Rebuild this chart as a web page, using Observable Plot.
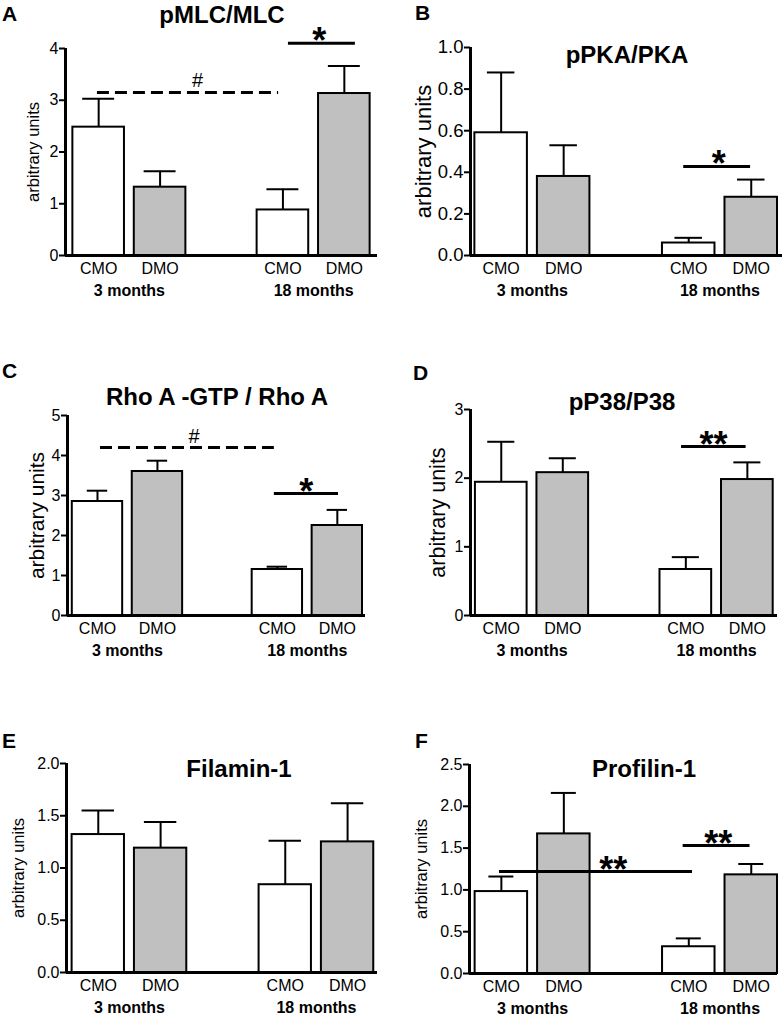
<!DOCTYPE html>
<html>
<head>
<meta charset="utf-8">
<script src="https://cdn.jsdelivr.net/npm/d3@7"></script>
<script src="https://cdn.jsdelivr.net/npm/@observablehq/plot@0.6"></script>
<style>
  html, body { margin: 0; padding: 0; background: white; }
  #root { position: relative; width: 783px; height: 1020px; overflow: hidden; font-family: Arial, "Liberation Sans", sans-serif; color: black; }
  .pane { position: absolute; }
  .lbl { position: absolute; line-height: 1; white-space: nowrap; }
</style>
</head>
<body>
<div id="root"></div>
<script>
// ---------- data ----------
const diets = ["CMO", "DMO", "CMO", "DMO"];
const slots = [1, 2, 4, 5];
const ageLabels = ["3 months", "18 months"];
const ageSlots = [1.5, 4.5];

const titles = ["pMLC/MLC", "pPKA/PKA", "Rho A -GTP / Rho A", "pP38/P38", "Filamin-1", "Profilin-1"];
const letters = ["A", "B", "C", "D", "E", "F"];
const yLabel = "arbitrary units";

// means and upper error ends (mean + SEM), order: CMO 3m, DMO 3m, CMO 18m, DMO 18m
const pMLC_mean = [2.48, 1.32, 0.88, 3.13];
const pMLC_upper = [3.03, 1.63, 1.28, 3.66];
const pPKA_mean = [0.59, 0.38, 0.06, 0.28];
const pPKA_upper = [0.88, 0.53, 0.085, 0.365];
const rhoA_mean = [2.85, 3.60, 1.15, 2.25];
const rhoA_upper = [3.12, 3.87, 1.22, 2.64];
const p38_mean = [1.94, 2.08, 0.67, 1.98];
const p38_upper = [2.53, 2.29, 0.85, 2.23];
const filamin_mean = [1.32, 1.19, 0.84, 1.25];
const filamin_upper = [1.55, 1.44, 1.26, 1.62];
const profilin_mean = [0.98, 1.67, 0.32, 1.18];
const profilin_upper = [1.16, 2.16, 0.42, 1.31];

// y ticks
const pMLC_ticks = [0, 1, 2, 3, 4];
const pPKA_ticks = [0, 0.2, 0.4, 0.6, 0.8, 1.0];
const rhoA_ticks = [0, 1, 2, 3, 4, 5];
const p38_ticks = [0, 1, 2, 3];
const filamin_ticks = [0, 0.5, 1.0, 1.5, 2.0];
const profilin_ticks = [0, 0.5, 1.0, 1.5, 2.0, 2.5];

// significance brackets (x in slot units, y in data units)
const pMLC_sig = [
  {x1: 0.98, x2: 3.93, y: 3.15, label: "#", lx: 2.61, dashed: true},
  {x1: 4.09, x2: 5.18, y: 4.10, label: "*", lx: 4.59, dashed: false}
];
const pPKA_sig = [
  {x1: 3.92, x2: 4.99, y: 0.428, label: "*", lx: 4.48, dashed: false}
];
const rhoA_sig = [
  {x1: 1.05, x2: 3.95, y: 4.20, label: "#", lx: 2.61, dashed: true},
  {x1: 3.95, x2: 5.02, y: 3.05, label: "*", lx: 4.48, dashed: false}
];
const p38_sig = [
  {x1: 3.93, x2: 4.98, y: 2.46, label: "**", lx: 4.45, dashed: false}
];
const filamin_sig = [];
const profilin_sig = [
  {x1: 0.97, x2: 4.06, y: 1.22, label: "**", lx: 2.79, dashed: false},
  {x1: 3.91, x2: 4.98, y: 1.53, label: "**", lx: 4.47, dashed: false}
];

// ---------- layout ----------
const FONT = "Arial, 'Liberation Sans', sans-serif";
const GRAY = "#c0c0c0";
const HALF_BAR = 0.42;

const panels = [
  {mean: pMLC_mean, upper: pMLC_upper, ticks: pMLC_ticks, sig: pMLC_sig, fmt: "d",
   left: 0, top: 0, width: 390, height: 310, mL: 65, mR: 13, mT: 48, mB: 55, xdom: [0.46, 5.54],
   tickFs: 16, labelFs: 16.5, labelDx: -32, cap: 0.26,
   title: {x: 222, b: 23}, letter: {x: 2, b: 21}},
  {mean: pPKA_mean, upper: pPKA_upper, ticks: pPKA_ticks, sig: pPKA_sig, fmt: ".1f",
   left: 390, top: 0, width: 393, height: 310, mL: 80, mR: 1, mT: 47, mB: 55, xdom: [0.51, 5.5],
   tickFs: 18.5, labelFs: 22, labelDx: -47, cap: 0.22,
   title: {x: 627, b: 63}, letter: {x: 415, b: 20}},
  {mean: rhoA_mean, upper: rhoA_upper, ticks: rhoA_ticks, sig: rhoA_sig, fmt: "d",
   left: 0, top: 320, width: 390, height: 350, mL: 67, mR: 25, mT: 95, mB: 55, xdom: [0.5, 5.47],
   tickFs: 16, labelFs: 21, labelDx: -30, cap: 0.17,
   title: {x: 217, b: 405}, letter: {x: 2, b: 378}},
  {mean: p38_mean, upper: p38_upper, ticks: p38_ticks, sig: p38_sig, fmt: "d",
   left: 390, top: 320, width: 393, height: 350, mL: 80, mR: 6, mT: 89, mB: 55, xdom: [0.5, 5.49],
   tickFs: 16, labelFs: 21.5, labelDx: -32, cap: 0.22,
   title: {x: 622, b: 410}, letter: {x: 413, b: 380}},
  {mean: filamin_mean, upper: filamin_upper, ticks: filamin_ticks, sig: filamin_sig, fmt: ".1f",
   left: 0, top: 690, width: 390, height: 330, mL: 66, mR: 13, mT: 73, mB: 48, xdom: [0.49, 5.48],
   tickFs: 16, labelFs: 16.5, labelDx: -48, cap: 0.26,
   title: {x: 239, b: 777}, letter: {x: 2, b: 748}},
  {mean: profilin_mean, upper: profilin_upper, ticks: profilin_ticks, sig: profilin_sig, fmt: ".1f",
   left: 390, top: 690, width: 393, height: 330, mL: 79, mR: 6, mT: 74, mB: 47, xdom: [0.49, 5.42],
   tickFs: 16, labelFs: 16.5, labelDx: -48, cap: 0.2,
   title: {x: 644, b: 777}, letter: {x: 415, b: 748}}
];

const root = document.getElementById("root");
const cats = slots.map((s, i) => ({pos: s, label: diets[i]}));
const ages = ageSlots.map((s, i) => ({pos: s, label: ageLabels[i]}));

function makePanel(cfg) {
  const data = slots.map((s, i) => ({pos: s, diet: diets[i], mean: cfg.mean[i], upper: cfg.upper[i]}));
  const solid = cfg.sig.filter(d => !d.dashed);
  const dashed = cfg.sig.filter(d => d.dashed);
  const stars = cfg.sig.filter(d => d.label.includes("*"));
  const hashes = cfg.sig.filter(d => d.label === "#");
  const fmt = d3.format(cfg.fmt);
  return Plot.plot({
    width: cfg.width, height: cfg.height,
    marginLeft: cfg.mL, marginRight: cfg.mR, marginTop: cfg.mT, marginBottom: cfg.mB,
    x: {type: "linear", domain: cfg.xdom, axis: null},
    y: {domain: [0, cfg.ticks[cfg.ticks.length - 1]], axis: null},
    style: {fontFamily: FONT, color: "black", background: "white", overflow: "visible"},
    marks: [
      Plot.rect(data, {
        x1: d => d.pos - HALF_BAR, x2: d => d.pos + HALF_BAR, y1: 0, y2: "mean",
        fill: d => d.diet === "CMO" ? "white" : GRAY, stroke: "black", strokeWidth: 2
      }),
      Plot.ruleX(data, {x: "pos", y1: "mean", y2: "upper", stroke: "black", strokeWidth: 2}),
      Plot.ruleY(data, {y: "upper", x1: d => d.pos - cfg.cap, x2: d => d.pos + cfg.cap, stroke: "black", strokeWidth: 2}),
      Plot.ruleX([cfg.xdom[0]], {stroke: "black", strokeWidth: 3}),
      Plot.ruleY([0], {stroke: "black", strokeWidth: 3}),
      Plot.axisY({ticks: cfg.ticks, tickFormat: () => "", tickSize: 6, strokeWidth: 2, stroke: "black"}),
      Plot.text(cfg.ticks, {y: d => d, text: d => fmt(d), frameAnchor: "left", textAnchor: "end",
        lineAnchor: "middle", dx: -7, fontSize: cfg.tickFs, fill: "black"}),
      Plot.text([yLabel], {frameAnchor: "left", textAnchor: "middle", lineAnchor: "middle", rotate: -90,
        dx: cfg.labelDx, fontSize: cfg.labelFs, fill: "black"}),
      Plot.text(cats, {x: "pos", text: "label", frameAnchor: "bottom", dy: 18, fontSize: 16, fill: "black"}),
      Plot.text(ages, {x: "pos", text: "label", frameAnchor: "bottom", dy: 40, fontSize: 16, fontWeight: "bold", fill: "black"}),
      Plot.ruleY(solid, {y: "y", x1: "x1", x2: "x2", stroke: "black", strokeWidth: 3}),
      Plot.ruleY(dashed, {y: "y", x1: "x1", x2: "x2", stroke: "black", strokeWidth: 3, strokeDasharray: "12,6"}),
      Plot.text(stars, {x: "lx", y: "y", text: "label", fontSize: 36, fontWeight: "bold", lineAnchor: "bottom", dy: 10, fill: "black"}),
      Plot.text(hashes, {x: "lx", y: "y", text: "label", fontSize: 20, lineAnchor: "bottom", dy: -5, fill: "black"})
    ]
  });
}

function addLabel(text, x, baseline, size, weight, center) {
  const el = document.createElement("div");
  el.className = "lbl";
  el.textContent = text;
  el.style.fontSize = size + "px";
  el.style.fontWeight = weight;
  el.style.top = (baseline - 0.8465 * size) + "px";
  el.style.left = x + "px";
  if (center) el.style.transform = "translateX(-50%)";
  root.appendChild(el);
}

panels.forEach((cfg, i) => {
  const div = document.createElement("div");
  div.className = "pane";
  div.style.left = cfg.left + "px";
  div.style.top = cfg.top + "px";
  div.appendChild(makePanel(cfg));
  root.appendChild(div);
  addLabel(titles[i], cfg.title.x, cfg.title.b, 24, "bold", true);
  addLabel(letters[i], cfg.letter.x, cfg.letter.b, 21, "bold", false);
});
</script>
</body>
</html>
